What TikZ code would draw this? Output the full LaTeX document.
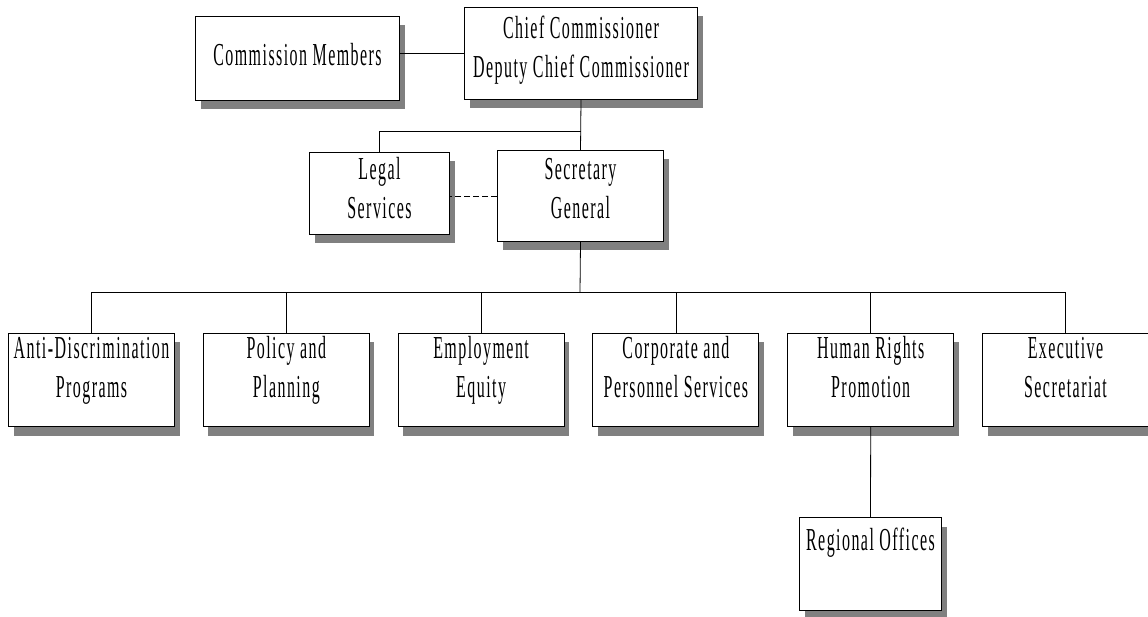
\documentclass[tikz,border=0pt]{standalone}
\usepackage{fontspec}
\setmainfont{Liberation Serif}[FakeStretch=0.5,LetterSpace=4.5]
\usetikzlibrary{shadows}

\begin{document}
\begin{tikzpicture}
      [%%%%%%%%%%%%%%%%%%%%%%%%%%%%%%
      x=1pt,y=1pt,
      box/.style={rectangle,draw=black,line width=1pt,fill=white,anchor=north west,
        inner sep=0pt,align=center,font=\fontsize{32}{39}\selectfont,
        drop shadow={shadow xshift=5pt,shadow yshift=-9pt,fill=black!50,opacity=1}},
      unit/.style={box,minimum width=166pt,minimum height=93pt,text height=64pt,text depth=29pt},
      link/.style={draw=black,line width=0.8pt},
      ]%%%%%%%%%%%%%%%%%%%%%%%%%%%%%%

      \useasboundingbox (0,0) rectangle (1148,-617);

      \node[box,minimum width=204pt,minimum height=84pt,text height=49pt,text depth=35pt] (members) at (195,-16) {Commission Members};
      \node[box,minimum width=233pt,minimum height=92pt,text height=70pt,text depth=22pt] (chief) at (464,-7) {Chief Commissioner\\Deputy Chief Commissioner};
      \node[box,minimum width=140pt,minimum height=82pt,text height=66pt,text depth=16pt] (legal) at (309,-152) {Legal\\Services};
      \node[box,minimum width=166pt,minimum height=91pt,text height=68pt,text depth=23pt] (secgen) at (497,-150) {Secretary\\General};

      \coordinate (split) at (580.5,-131);
      \coordinate (bus) at (580,-292);

      \draw[link] (chief.west) -- (chief.west -| members.east);
      \draw[link] (chief.south) -- (secgen.north);
      \draw[link] (legal.north) |- (split);
      \draw[link,dash pattern=on 6pt off 3pt] (secgen.west) -- (secgen.west -| legal.east);
      \draw[link] (secgen.south) -- (bus);

      \foreach \name/\txt [count=\i from 0] in
        {antidisc/{Anti-Discrimination\\Programs},
         policy/{Policy and\\Planning},
         equity/{Employment\\Equity},
         corporate/{Corporate and\\Personnel Services},
         rights/{Human Rights\\Promotion},
         execsec/{Executive\\Secretariat}}
      {
        \node[unit] (\name) at (8+194.8*\i,-333) {\txt};
        \draw[link] (\name.north) |- (bus);
      }

      \node[box,minimum width=142pt,minimum height=93pt,text height=33pt,text depth=60pt] (regional) at (799,-517) {Regional Offices};
      \draw[link] (rights.south) -- (regional.north);
    \end{tikzpicture}
\end{document}
